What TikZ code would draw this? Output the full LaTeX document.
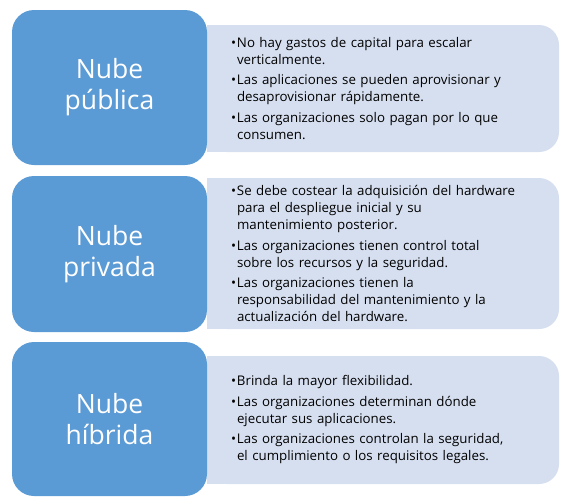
\documentclass[tikz,border=0pt]{standalone}
\usepackage{fontspec}
\setmainfont{Open Sans}
\usetikzlibrary{positioning}
\definecolor{catBlue}{RGB}{91,155,213}
\definecolor{descBlue}{RGB}{214,223,240}
\tikzset{
  catbox/.style={fill=catBlue, rounded corners=22pt, minimum width=195pt,
    inner sep=0pt, text=white, align=center,
    font=\fontsize{26.5}{31}\selectfont},
  descbox/.style={fill=descBlue, rounded corners=20pt, minimum width=352pt,
    text width=304pt, inner xsep=0pt, align=left,
    font=\fontsize{13.3}{17}\selectfont},
}
\newcommand{\bul}{\makebox[6pt][l]{•}}
\newcommand{\cont}{\hspace*{6pt}}
\begin{document}
\begin{tikzpicture}[x=1pt,y=-1pt]
  \useasboundingbox (0,0) rectangle (574,504);
  % row 1: public cloud
  \node[descbox, minimum height=127pt] (dpub) at (383,88.5) {%
    \bul No hay gastos de capital para escalar\\
    \cont verticalmente.\\[3.5pt]
    \bul Las aplicaciones se pueden aprovisionar y\\
    \cont desaprovisionar rápidamente.\\[3.5pt]
    \bul Las organizaciones solo pagan por lo que\\
    \cont consumen.};
  \fill[descBlue] (dpub.south west) rectangle ([xshift=24pt]dpub.north west);
  \node[catbox, minimum height=155pt] (pub) at (109.5,87.5) {Nube\\pública};
  % row 2: private cloud
  \node[descbox, minimum height=151pt] (dpriv) at (383,253.5) {%
    \bul Se debe costear la adquisición del hardware\\
    \cont para el despliegue inicial y su\\
    \cont mantenimiento posterior.\\[3.5pt]
    \bul Las organizaciones tienen control total\\
    \cont sobre los recursos y la seguridad.\\[3.5pt]
    \bul Las organizaciones tienen la\\
    \cont responsabilidad del mantenimiento y la\\
    \cont actualización del hardware.};
  \fill[descBlue] (dpriv.south west) rectangle ([xshift=24pt]dpriv.north west);
  \node[catbox, minimum height=156pt] (priv) at (109.5,254) {Nube\\privada};
  % row 3: hybrid cloud
  \node[descbox, minimum height=128pt] (dhib) at (383,420) {%
    \bul Brinda la mayor flexibilidad.\\[3.5pt]
    \bul Las organizaciones determinan dónde\\
    \cont ejecutar sus aplicaciones.\\[3.5pt]
    \bul Las organizaciones controlan la seguridad,\\
    \cont el cumplimiento o los requisitos legales.};
  \fill[descBlue] (dhib.south west) rectangle ([xshift=24pt]dhib.north west);
  \node[catbox, minimum height=154pt] (hib) at (109.5,419) {Nube\\híbrida};
\end{tikzpicture}
\end{document}
